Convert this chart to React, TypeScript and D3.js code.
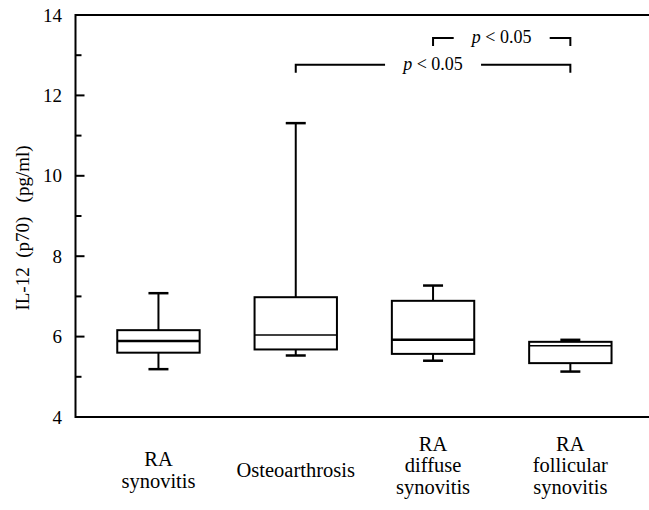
import React from "react";
import * as d3 from "d3";

// ---- data ----
const categories: string[][] = [
  ["RA", "synovitis"],
  ["Osteoarthrosis"],
  ["RA", "diffuse", "synovitis"],
  ["RA", "follicular", "synovitis"],
];
const whiskerLow = [5.19, 5.53, 5.4, 5.13];
const q1 = [5.6, 5.68, 5.57, 5.34];
const median = [5.89, 6.04, 5.92, 5.77];
const q3 = [6.16, 6.98, 6.89, 5.87];
const whiskerHigh = [7.08, 11.31, 7.27, 5.92];
const yTickLabels = [4, 6, 8, 10, 12, 14];
const yMinorTicks = [5, 7, 9, 11, 13];
const yAxisTitle = "IL-12  (p70)   (pg/ml)";
const comparisonFrom = [1, 2];
const comparisonTo = [3, 3];
const comparisonLevel = [12.76, 13.43];
const comparisonLabel = ["p", "p"];
const comparisonText = [" < 0.05", " < 0.05"];

const W = 649;
const H = 510;
const serif = "'Liberation Serif', 'Times New Roman', serif";

export default function App() {
  const axisX = 75.5;
  const y = d3.scaleLinear().domain([4, 14]).range([417, 15]);
  const x = d3
    .scaleBand<number>()
    .domain(d3.range(categories.length))
    .range([89.8, 639])
    .paddingInner(0.4)
    .paddingOuter(0.2);
  const bw = x.bandwidth();
  const cx = (i: number) => (x(i) as number) + bw / 2;
  const capW = 20;

  return (
    <svg
      width={W}
      height={H}
      style={{ position: "absolute", left: 0, top: 0, background: "#fff" }}
      fontFamily={serif}
    >
      {/* frame lines */}
      <line x1={axisX} x2={W} y1={y(14)} y2={y(14)} stroke="#000" strokeWidth={2} />
      <line x1={axisX} x2={W} y1={y(4)} y2={y(4)} stroke="#000" strokeWidth={2} />
      <line x1={axisX} x2={axisX} y1={y(14) - 1} y2={y(4) + 1} stroke="#000" strokeWidth={2} />

      {/* ticks */}
      {yTickLabels.map((t) => (
        <g key={"t" + t}>
          <line x1={axisX} x2={axisX + 9} y1={y(t)} y2={y(t)} stroke="#000" strokeWidth={2} />
          <text x={62} y={y(t)} dy="0.35em" textAnchor="end" fontSize={19} fill="#000">
            {t}
          </text>
        </g>
      ))}
      {yMinorTicks.map((t) => (
        <line key={"m" + t} x1={axisX} x2={axisX + 6} y1={y(t)} y2={y(t)} stroke="#000" strokeWidth={2} />
      ))}

      {/* y axis title */}
      <text
        transform={`translate(29,228) rotate(-90)`}
        textAnchor="middle"
        fontSize={19}
        fill="#000"
        style={{ whiteSpace: "pre" }}
      >
        {yAxisTitle}
      </text>

      {/* boxes */}
      {categories.map((_, i) => {
        const c = cx(i);
        const x0 = x(i) as number;
        return (
          <g key={"b" + i} stroke="#000" fill="none">
            <line x1={c} x2={c} y1={y(q3[i])} y2={y(whiskerHigh[i])} strokeWidth={2} />
            <line x1={c - capW / 2} x2={c + capW / 2} y1={y(whiskerHigh[i])} y2={y(whiskerHigh[i])} strokeWidth={2.5} />
            <line x1={c} x2={c} y1={y(q1[i])} y2={y(whiskerLow[i])} strokeWidth={2} />
            <line x1={c - capW / 2} x2={c + capW / 2} y1={y(whiskerLow[i])} y2={y(whiskerLow[i])} strokeWidth={2.5} />
            <rect x={x0} y={y(q3[i])} width={bw} height={y(q1[i]) - y(q3[i])} strokeWidth={2} fill="#fff" />
            <line x1={x0} x2={x0 + bw} y1={y(median[i])} y2={y(median[i])} strokeWidth={i % 2 === 0 ? 2.5 : 1.5} />
          </g>
        );
      })}

      {/* comparison brackets */}
      {comparisonFrom.map((f, k) => {
        const a = cx(f);
        const b = cx(comparisonTo[k]);
        const ly = y(comparisonLevel[k]);
        const mid = (a + b) / 2;
        const gap = 48;
        return (
          <g key={"c" + k}>
            <path
              d={`M${a},${ly + 8}V${ly}H${mid - gap}M${mid + gap},${ly}H${b}V${ly + 8}`}
              stroke="#000"
              strokeWidth={2}
              fill="none"
            />
            <text x={mid} y={ly + 5.5} textAnchor="middle" fontSize={18} fill="#000" style={{ whiteSpace: "pre" }}>
              <tspan fontStyle="italic">{comparisonLabel[k]}</tspan>
              {comparisonText[k]}
            </text>
          </g>
        );
      })}

      {/* category labels */}
      {categories.map((lines, i) => {
        const n = lines.length;
        const lh = 21.5;
        const center = n === 3 ? 466 : 471;
        return (
          <text key={"l" + i} textAnchor="middle" fontSize={20.5} fill="#000">
            {lines.map((s, j) => (
              <tspan key={j} x={cx(i)} y={center + (j - (n - 1) / 2) * lh + 6}>
                {s}
              </tspan>
            ))}
          </text>
        );
      })}
    </svg>
  );
}
